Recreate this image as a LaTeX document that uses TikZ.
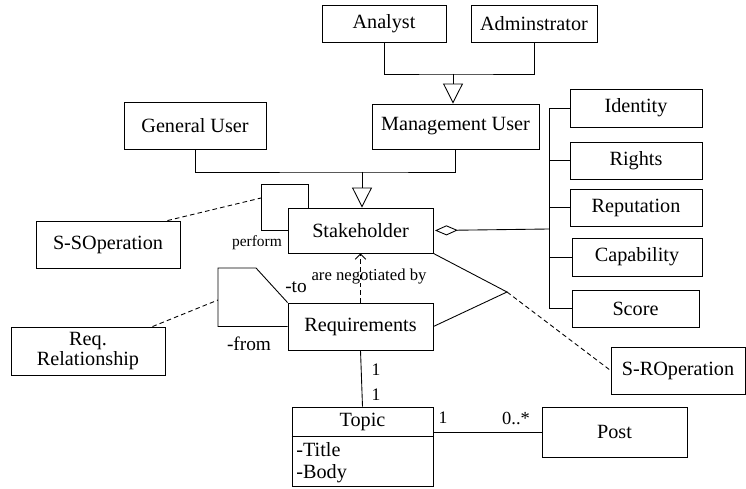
\documentclass[tikz,border=0pt]{standalone}
\usepackage{fontspec}
\setmainfont{Liberation Serif}
\usetikzlibrary{arrows.meta}
\usetikzlibrary{calc}

\tikzset{
  umlbox/.style 2 args={draw, black, line width=0.5pt, inner sep=0pt,
    minimum width=#1*0.02cm, minimum height=#2*0.02cm,
    font=\rmfamily\fontsize{11.5pt}{11.5pt}\selectfont},
  conn/.style={black, line width=0.5pt},
  dashconn/.style={conn, dash pattern=on 2.6pt off 1.8pt},
  gen/.style={conn, -{Triangle[open, length=11.4pt, width=11.4pt]}},
  lbl/.style={inner sep=0pt, font=\rmfamily\fontsize{11pt}{11pt}\selectfont},
  smalllbl/.style={inner sep=0pt, font=\rmfamily\fontsize{9.5pt}{9.5pt}\selectfont},
}

\begin{document}
\begin{tikzpicture}[x=0.02cm, y=-0.02cm]
        \useasboundingbox (0,0) rectangle (746,489);

        % users and stakeholder
        \node[umlbox={124}{37}] (analyst) at (384,23.5) {Analyst};
        \node[umlbox={126}{37}] (admin) at (534,23.5) {Adminstrator};
        \node[umlbox={167}{45}] (mgmt) at (455.5,126.5) {Management User};
        \node[umlbox={142}{47}] (general) at (195,125.5) {General User};
        \node[umlbox={145}{45}] (stakeholder) at (360.5,230.5) {Stakeholder};
        \node[umlbox={144}{47}] (sso) at (108,244.5) {S-SOperation};

        % attributes
        \node[umlbox={132}{38}] (identity) at (636,108) {Identity};
        \node[umlbox={132}{37}] (rights) at (636,160.5) {Rights};
        \node[umlbox={132}{37}] (reputation) at (636,207.5) {Reputation};
        \node[umlbox={130}{38}] (capability) at (637,257) {Capability};
        \node[umlbox={127}{37}] (score) at (635.5,308.5) {Score};

        % requirements
        \node[umlbox={145}{47}] (req) at (360.5,326.5) {Requirements};
        \node[umlbox={154}{48}, align=center] (reqrel) at (88,351) {Req.\\Relationship};
        \node[umlbox={134}{47}] (sro) at (678,370.5) {S-ROperation};
        \node[umlbox={141}{79}] (topic) at (362.5,446.5) {};
        \node[umlbox={145}{50}] (post) at (614.5,432) {Post};

        \node[lbl, font=\rmfamily\fontsize{11.5pt}{11.5pt}\selectfont] (topicname) at (362.5,422) {Topic};
        \node[lbl, anchor=west, font=\rmfamily\fontsize{11.5pt}{11.5pt}\selectfont] (title) at (296,450) {-Title};
        \node[lbl, anchor=west, font=\rmfamily\fontsize{11.5pt}{11.5pt}\selectfont] (body) at (296,474) {-Body};
        \draw[conn] ($(topic.north west)+(0,30)$) -- ($(topic.north east)+(0,30)$);

        % generalization
        \coordinate (mgmtjoin) at (453,74);
        \draw[conn] (analyst.south) |- (mgmtjoin) -| (admin.south);
        \draw[gen] (mgmtjoin) -- (mgmtjoin |- mgmt.north);

        \coordinate (stakejoin) at (362,172);
        \draw[conn] (general.south) |- (stakejoin) -| (mgmt.south);
        \draw[gen] (stakejoin) -- (stakejoin |- stakeholder.north);

        % aggregation
        \coordinate (bus) at (549,229);
        \draw[conn, {Diamond[open, length=13pt, width=5.7pt]}-] (stakeholder.east -| 435,0) -- (bus);
        \draw[conn] (identity.west) -| (bus) |- (score.west);
        \foreach \n in {rights,reputation,capability}
            \draw[conn] (\n.west) -- (\n.west -| bus);

        % perform loop
        \coordinate (loopS) at (261,184);
        \draw[conn] ($(stakeholder.north west)+(21,0)$) |- (loopS) |- (stakeholder.west);
        \draw[dashconn] ($(sso.north east)+(-13,0)$) -- ($(loopS)+(0,14)$);
        \node[smalllbl, font=\rmfamily\fontsize{8.8pt}{8.8pt}\selectfont] (perform) at (257,243) {perform};

        % relationship loop
        \coordinate (reqloop) at (218,268);
        \draw[conn] (req.north west) -- ($(reqloop)+(38,0)$) -- (reqloop) |- (req.west);
        \draw[dashconn] ($(reqrel.north east)+(-13,0)$) -- ($(reqloop)+(0,32)$);
        \node[lbl] (to) at (296,287) {-to};
        \node[lbl] (from) at (249,344) {-from};

        % negotiation
        \draw[dashconn, -{Straight Barb[length=3pt, width=6pt]}] (req.north) -- (stakeholder.south);
        \node[smalllbl] (negotiated) at (369,277) {are negotiated by};

        \coordinate (assoc) at (507,292);
        \draw[conn] (stakeholder.south east) -- (assoc) -- (req.east);
        \draw[dashconn] (assoc) -- (sro.west);

        % topic
        \draw[conn] (req.south) -- (topic.north);
        \node[lbl, font=\rmfamily\fontsize{10pt}{10pt}\selectfont] (reqmult) at (376,370) {1};
        \node[lbl, font=\rmfamily\fontsize{10pt}{10pt}\selectfont] (topicmult) at (376,395) {1};

        \draw[conn] (post.west -| topic.east) -- (post.west);
        \node[lbl, font=\rmfamily\fontsize{10pt}{10pt}\selectfont] (onemult) at (443,418) {1};
        \node[lbl, font=\rmfamily\fontsize{10.5pt}{10.5pt}\selectfont] (manymult) at (516,418) {0..*};
    \end{tikzpicture}
\end{document}
